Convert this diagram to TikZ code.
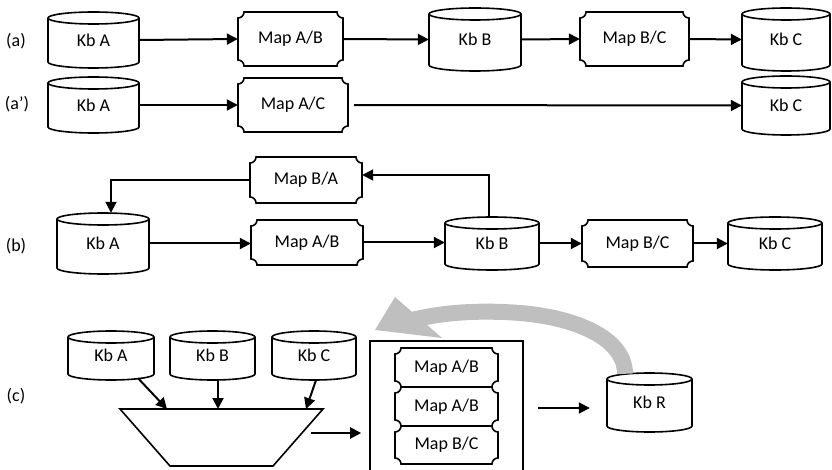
\documentclass[tikz,border=0pt]{standalone}
\usepackage{fontspec}
\setmainfont{Carlito}
\usetikzlibrary{arrows.meta,calc}

\tikzset{
  outline/.style={line width=1.6pt, black},
  arr/.style={line width=2pt, -{Triangle[length=11pt,width=11pt]}},
  lbl/.style={font=\fontsize{18}{21}\selectfont, inner sep=0pt},
  holder/.style={inner sep=0pt, font=\fontsize{18}{21}\selectfont},
  recycle/.style={black!25, line width=16pt},
}

% knowledge base drum: name, x0, y0, x1, y1, text
\newcommand{\kbcyl}[6]{%
  \node[holder, minimum width={(#4-#2)*1pt}, minimum height={(#5-#3)*1pt}] (#1) at ({(#2+#4)/2},{(#3+#5)/2}) {#6};
  \draw[outline] ({(#2+#4)/2},{#3+6}) ellipse [x radius={(#4-#2)/2*1pt}, y radius=6pt];
  \draw[outline] (#2,{#3+6}) -- (#2,{#5-6}) arc[start angle=180, end angle=360, x radius={(#4-#2)/2*1pt}, y radius=6pt] -- (#4,{#3+6});
}

% mapping plaque with concave corners: name, x0, y0, x1, y1, text
\newcommand{\plaque}[6]{%
  \node[holder, minimum width={(#4-#2)*1pt}, minimum height={(#5-#3)*1pt}] (#1) at ({(#2+#4)/2},{(#3+#5)/2}) {#6};
  \draw[outline] ({#2+6},#3) -- ({#4-6},#3)
    .. controls ({#4-6},{#3+3.3}) and ({#4-3.3},{#3+6}) .. (#4,{#3+6})
    -- (#4,{#5-6})
    .. controls ({#4-3.3},{#5-6}) and ({#4-6},{#5-3.3}) .. ({#4-6},#5)
    -- ({#2+6},#5)
    .. controls ({#2+6},{#5-3.3}) and ({#2+3.3},{#5-6}) .. (#2,{#5-6})
    -- (#2,{#3+6})
    .. controls ({#2+3.3},{#3+6}) and ({#2+6},{#3+3.3}) .. cycle;
}

\begin{document}
\begin{tikzpicture}[x=1pt, y=-1pt]
\useasboundingbox (0,0) rectangle (832,470);

% row labels
\node[lbl] (la)  at (16,41)  {(a)};
\node[lbl] (la2) at (17,104) {(a’)};
\node[lbl] (lb)  at (16,246) {(b)};
\node[lbl] (lc)  at (16,396) {(c)};

% (a) chain A -> B -> C
\kbcyl{kbA1}{48}{12}{139}{68}{Kb A}
\plaque{mapAB1}{238}{12}{343}{66}{Map A/B}
\kbcyl{kbB1}{429}{8}{521}{71}{Kb B}
\plaque{mapBC1}{580}{12}{689}{66}{Map B/C}
\kbcyl{kbC1}{742}{8}{830}{71}{Kb C}
\draw[arr] (kbA1.east) -- (mapAB1.west);
\draw[arr] (mapAB1.east) -- (kbB1.west);
\draw[arr] (kbB1.east) -- (mapBC1.west);
\draw[arr] (mapBC1.east) -- (kbC1.west);

% (a') direct A -> C
\kbcyl{kbA2}{48}{77}{139}{133}{Kb A}
\plaque{mapAC}{238}{78}{348}{132}{Map A/C}
\kbcyl{kbC2}{742}{76}{830}{135}{Kb C}
\draw[arr] (kbA2.east) -- (mapAC.west);
\draw[arr, shorten <=6pt] (mapAC.east) -- (kbC2.west);

% (b) chain with reverse mapping
\plaque{mapBA}{250}{157}{362}{203}{Map B/A}
\kbcyl{kbA3}{57}{213}{149}{274}{Kb A}
\plaque{mapAB2}{251}{220}{363}{265}{Map A/B}
\kbcyl{kbB3}{445}{217}{539}{270}{Kb B}
\plaque{mapBC2}{582}{220}{693}{267}{Map B/C}
\kbcyl{kbC3}{728}{217}{822}{270}{Kb C}
\draw[arr] (kbA3.east) -- (kbA3.east -| mapAB2.west);
\draw[arr] (mapAB2.east) -- (mapAB2.east -| kbB3.west);
\draw[arr] (kbB3.east) -- (kbB3.east -| mapBC2.west);
\draw[arr] (mapBC2.east) -- (mapBC2.east -| kbC3.west);
\draw[arr] ([xshift=-3pt]kbB3.north) |- ([yshift=5pt]mapBA.east);
\draw[arr] (mapBA.west) -| ([xshift=8pt]kbA3.north);

% (c) merged knowledge bases
\draw[outline] (120,409) coordinate (tzL) -- (323,409) coordinate (tzT)
  -- (273,466) -- (170,466) -- cycle;
\kbcyl{kbA4}{68}{331}{154}{380}{Kb A}
\kbcyl{kbB4}{170}{331}{255}{380}{Kb B}
\kbcyl{kbC4}{272}{331}{356}{380}{Kb C}
\coordinate (tzA) at (167,409);
\coordinate (tzB) at (218,409);
\coordinate (tzC) at (306,409);
\coordinate (tzR) at (311,433);
\draw[arr] ([xshift=27pt,yshift=2pt]kbA4.south) -- (tzA);
\draw[arr] ([xshift=5.5pt]kbB4.south) -- (tzB);
\draw[arr] ([xshift=2pt]kbC4.south) -- (tzC);

\node[draw, outline, minimum width=153pt, minimum height=131pt, inner sep=0pt] (mbox) at (446.5,406.5) {};
\plaque{mapX1}{395}{348}{498}{387}{Map A/B}
\plaque{mapX2}{395}{387}{498}{426}{Map A/B}
\plaque{mapX3}{395}{426}{498}{464}{Map B/C}
\draw[arr, shorten >=8pt] (tzR) -- (tzR -| mbox.west);

\kbcyl{kbR}{607}{373}{692}{432}{Kb R}
\coordinate (bxo) at (523,408);
\draw[arr, shorten <=15pt, shorten >=17pt] (bxo) -- (bxo -| kbR.west);

% grey feedback arrow from Kb R back to the mappings
\coordinate (fbS) at ([xshift=-24.5pt,yshift=-1pt]kbR.north);
\coordinate (fbE) at (412,320);
\draw[recycle] (fbS) .. controls (625,340) and (580,318) .. (520,313)
  .. controls (480,310) and (445,312) .. (fbE);
\fill[black!25] (395,297) -- (375,330) -- (442,338) -- cycle;
\end{tikzpicture}
\end{document}
